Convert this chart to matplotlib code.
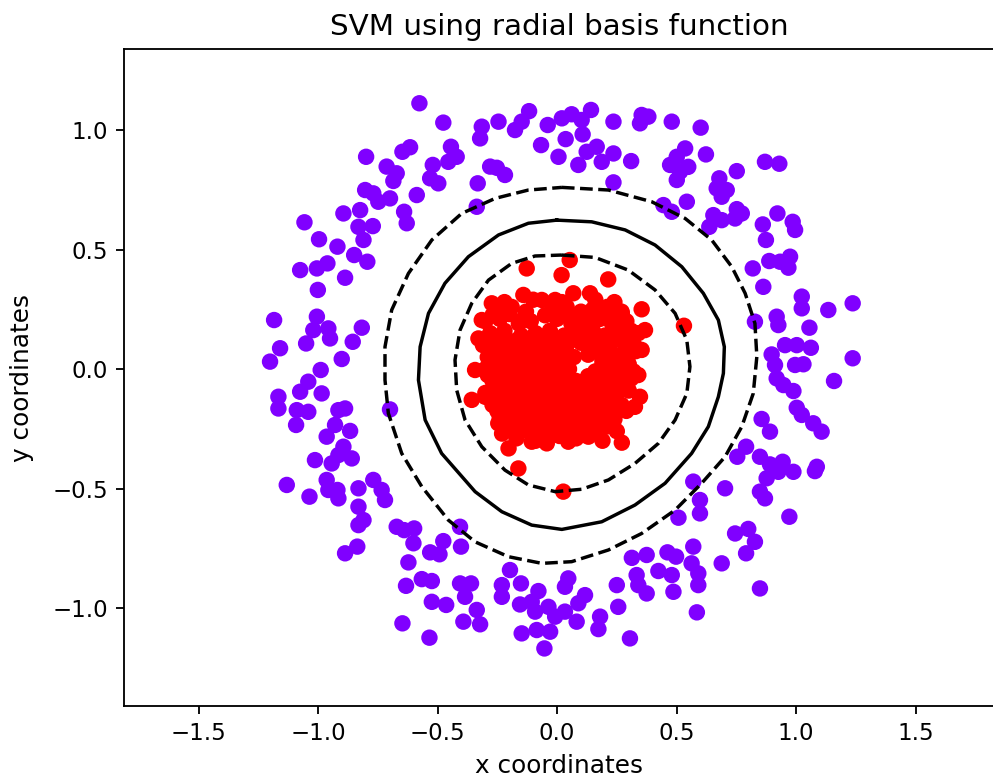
import numpy as np
import matplotlib
matplotlib.use("Agg")
import matplotlib.pyplot as plt

# outer ring (class 0)
outer_x = [
    -0.576, -0.476, -0.444, -0.615, -0.647, -0.799, -0.713, -0.671, -0.685, -0.520, -0.455, -0.420,
    -0.531, -0.497, -0.587, -0.803, -0.769, -0.699, -0.748, -0.824, -0.894, -0.640, -0.629, -1.057,
    -0.831, -0.771, -0.810, -0.996, -0.919, -0.849, -0.794, -0.961, -1.075, -1.005, -0.887,
    -0.315, -0.322, -0.245, -0.176, -0.148, -0.117, -0.039, 0.020, 0.061, 0.103, 0.142, 0.107,
    0.036, -0.067, 0.006, 0.089, 0.124, 0.166, 0.187, 0.236, 0.236, 0.310, 0.236, 0.354, 0.382,
    0.347, -0.280, -0.252, -0.218, -0.332, -0.336,
    0.480, 0.601, 0.536, 0.501, 0.473, 0.549, 0.515, 0.501, 0.623, 0.752, 0.870, 0.930, 0.679,
    0.668, 0.710, 0.689, 0.543, 0.445, 0.480, 0.752, 0.773, 0.745, 0.654, 0.689, 0.637, 0.922,
    0.861, 0.986, 0.996, 0.874, 0.819, 0.888, 0.933, 0.975, 0.968,
    -1.001, -1.184, -1.005, -1.020, -0.957, -0.950, -1.050, -0.817, -0.855, -1.159, -1.201,
    -0.901, -0.989, -1.041, -1.075, -0.985, -1.166, -1.166, -1.089, -1.041, -0.915, -0.887,
    -1.092, -0.929, -0.866, -0.964, -0.894, -0.915, -0.859, -1.013, -0.943, -0.699,
    -1.131, -1.036, -0.964, -0.957, -0.919, -0.915, -0.831, -0.769, -0.734, -0.720, -0.831,
    -0.810, -0.831, -0.671, -0.640, -0.598, -0.601, -0.836, -0.887, -0.476, -0.531, -0.492,
    -0.622, -0.632, -0.566, -0.524, -0.524, -0.464, -0.647, -0.534,
    -0.406, -0.402, -0.197, -0.406, -0.360, -0.385, -0.231, -0.231, -0.151, -0.336, -0.392,
    -0.322, -0.078, -0.155, -0.106, -0.036, -0.092, -0.008, 0.033, 0.047, 0.033, 0.117, 0.089,
    0.082, -0.148, -0.085, -0.029, -0.053, 0.180, 0.173, 0.250, 0.256, 0.313, 0.375, 0.333,
    0.340, 0.375, 0.305, 0.424,
    0.570, 0.703, 0.598, 0.598, 0.508, 0.849, 0.870, 0.877, 0.926, 0.989, 1.079, 0.972, 0.745,
    0.800, 0.828, 0.791, 0.570, 0.462, 0.498, 0.563, 0.689, 0.591, 0.591, 0.480, 0.487, 0.849,
    0.585,
    0.863, 1.024, 1.024, 1.135, 1.237, 0.828, 0.919, 0.926, 1.056, 0.898, 0.954, 1.003, 1.062,
    1.237, 0.912, 0.996, 1.031, 0.919, 0.947, 0.989, 1.159, 1.003, 1.024, 1.072, 1.107, 0.856,
    0.891, 0.791, 0.754, 0.849, 0.944, 0.891, 1.087,
]
outer_y = [
    1.112, 1.031, 0.930, 0.928, 0.909, 0.888, 0.847, 0.819, 0.787, 0.854, 0.867, 0.888,
    0.798, 0.777, 0.728, 0.749, 0.735, 0.714, 0.700, 0.665, 0.651, 0.658, 0.610, 0.614,
    0.595, 0.598, 0.540, 0.543, 0.512, 0.477, 0.449, 0.442, 0.414, 0.421, 0.382,
    1.014, 0.965, 1.035, 1.000, 1.035, 1.079, 1.021, 1.049, 1.066, 1.042, 1.084, 0.982,
    0.962, 0.937, 0.888, 0.854, 0.909, 0.930, 0.867, 0.902, 1.035, 0.870, 0.781, 1.063, 1.056,
    1.028, 0.847, 0.842, 0.812, 0.777, 0.679,
    1.035, 1.010, 0.923, 0.888, 0.854, 0.846, 0.826, 0.791, 0.898, 0.828, 0.867, 0.859, 0.798,
    0.756, 0.749, 0.721, 0.700, 0.686, 0.658, 0.669, 0.651, 0.630, 0.644, 0.623, 0.595, 0.651,
    0.605, 0.616, 0.582, 0.540, 0.421, 0.452, 0.449, 0.470, 0.424,
    0.331, 0.205, 0.219, 0.163, 0.170, 0.128, 0.107, 0.173, 0.114, 0.087, 0.031,
    0.042, -0.004, -0.053, -0.095, -0.102, -0.116, -0.165, -0.172, -0.179, -0.172, -0.165,
    -0.234, -0.234, -0.259, -0.283, -0.325, -0.360, -0.374, -0.381, -0.395, -0.169,
    -0.485, -0.534, -0.464, -0.506, -0.506, -0.541, -0.499, -0.464, -0.506, -0.548, -0.576,
    -0.632, -0.653, -0.660, -0.674, -0.667, -0.729, -0.743, -0.771, -0.720, -0.767, -0.775,
    -0.809, -0.907, -0.879, -0.887, -0.974, -0.987, -1.064, -1.124,
    -0.660, -0.743, -0.841, -0.897, -0.897, -0.953, -0.904, -0.953, -0.897, -1.008, -1.057,
    -1.068, -0.929, -0.985, -0.974, -0.995, -1.015, -1.036, -1.015, -0.876, -0.911, -0.946, -0.980,
    -1.057, -1.106, -1.092, -1.099, -1.169, -1.036, -1.088, -0.904, -0.995, -0.790, -0.778, -0.862,
    -0.904, -0.939, -1.127, -0.845,
    -0.471, -0.499, -0.548, -0.604, -0.622, -0.513, -0.541, -0.457, -0.430, -0.430, -0.427, -0.618, -0.688,
    -0.669, -0.723, -0.771, -0.743, -0.767, -0.785, -0.813, -0.813, -0.855, -0.904, -0.862, -0.932, -0.918,
    -1.018,
    0.344, 0.303, 0.254, 0.247, 0.275, 0.198, 0.219, 0.184, 0.173, 0.061, 0.100, 0.100, 0.089,
    0.045, 0.017, 0.017, 0.020, -0.039, -0.067, -0.092, -0.050, -0.162, -0.192, -0.227, -0.262, -0.209,
    -0.262, -0.325, -0.367, -0.367, -0.388, -0.399, -0.409,
]

# inner blob (class 1)
inner_x = [
    -0.127, 0.053, 0.019, 0.214, 0.354, 0.340, 0.368, 0.354, 0.347, 0.326, 0.271,
    -0.162, -0.203, -0.357, -0.343, -0.329, -0.315, -0.273, -0.141, -0.064, 0.068, 0.138, -0.008,
    0.271, -0.246, -0.043, 0.047, 0.131, -0.106, 0.229, -0.301, 0.531, 0.026,
    -0.22, -0.10, 0.02, 0.16, 0.24,
    -0.25, -0.19, -0.13, -0.02, 0.04, 0.10, 0.15, 0.21, 0.27,
    -0.27, -0.20, -0.135, -0.05, 0.03, 0.09, 0.15, 0.205, 0.26,
    -0.30, -0.24, -0.16, -0.11, 0.00, 0.06, 0.12, 0.18, 0.23, 0.29,
    -0.28, -0.22, -0.15, -0.09, -0.03, 0.03, 0.09, 0.15, 0.20, 0.26, 0.31,
    -0.285, -0.23, -0.17, -0.11, -0.05, 0.01, 0.07, 0.13, 0.185, 0.24, 0.30,
    -0.31, -0.26, -0.20, -0.14, -0.08, -0.02, 0.04, 0.10, 0.16, 0.21, 0.28, 0.33,
    -0.26, -0.20, -0.14, -0.08, -0.02, 0.04, 0.16, 0.22, 0.28, 0.33,
    -0.29, -0.23, -0.17, -0.11, -0.05, 0.01, 0.07, 0.13, 0.19, 0.25, 0.30,
    -0.27, -0.21, -0.15, -0.09, -0.03, 0.03, 0.19, 0.25, 0.30,
    -0.30, -0.25, -0.19, -0.13, -0.07, -0.01, 0.05, 0.16, 0.22, 0.27, 0.32,
    -0.29, -0.23, -0.17, -0.11, -0.05, 0.01, 0.06, 0.13, 0.18, 0.24, 0.29, 0.34,
    -0.27, -0.21, -0.15, -0.09, -0.03, 0.03, 0.08, 0.14, 0.20, 0.26, 0.31,
    -0.25, -0.19, -0.13, -0.07, -0.01, 0.05, 0.10, 0.15, 0.22, 0.28,
    -0.30, -0.24, -0.18, -0.12, -0.06, 0.00, 0.06, 0.12, 0.17, 0.25, 0.30,
    -0.28, -0.22, -0.16, -0.10, -0.04, 0.02, 0.08, 0.14, 0.19, 0.24,
    -0.27, -0.21, -0.15, -0.09, -0.03, 0.03, 0.09, 0.15, 0.21, 0.27,
    -0.25, -0.19, -0.13, -0.07, -0.01, 0.05, 0.11, 0.17, 0.23, 0.29,
    -0.24, -0.18, -0.12, -0.06, 0.00, 0.06, 0.12, 0.18, 0.24,
    -0.21, -0.15, -0.09, -0.03, 0.03, 0.09, 0.15, 0.21,
    -0.23, -0.12, -0.05, 0.02, 0.13, 0.25,
    -0.20, -0.14, -0.08, -0.02, 0.05, 0.10, 0.16, 0.21,
    -0.17, -0.09, 0.01, 0.08, 0.19,
]
inner_y = [
    0.421, 0.456, 0.393, 0.375, 0.250, 0.150, 0.163, 0.080, -0.116, -0.158, -0.308,
    -0.416, -0.332, -0.129, -0.004, 0.128, 0.205, 0.275, 0.310, 0.289, 0.317, 0.317, 0.289,
    0.233, -0.227, -0.311, -0.304, -0.283, -0.304, -0.234, -0.116, 0.181, -0.513,
    0.28, 0.29, 0.28, 0.29, 0.28,
    0.25, 0.26, 0.24, 0.25, 0.26, 0.24, 0.25, 0.26, 0.24,
    0.225, 0.23, 0.22, 0.225, 0.23, 0.22, 0.225, 0.23, 0.22,
    0.20, 0.21, 0.19, 0.20, 0.21, 0.19, 0.20, 0.21, 0.19, 0.20,
    0.15, 0.16, 0.14, 0.15, 0.16, 0.14, 0.15, 0.16, 0.14, 0.15, 0.16,
    0.125, 0.13, 0.12, 0.125, 0.13, 0.12, 0.125, 0.13, 0.12, 0.125, 0.13,
    0.10, 0.11, 0.09, 0.10, 0.11, 0.09, 0.10, 0.11, 0.09, 0.10, 0.11, 0.09,
    0.075, 0.08, 0.07, 0.075, 0.08, 0.07, 0.075, 0.08, 0.07, 0.075,
    0.05, 0.06, 0.04, 0.05, 0.06, 0.04, 0.05, 0.06, 0.04, 0.05, 0.06,
    0.025, 0.03, 0.02, 0.025, 0.03, 0.02, 0.025, 0.03, 0.02,
    0.00, 0.01, -0.01, 0.00, 0.01, -0.01, 0.00, -0.01, 0.00, 0.01, -0.01,
    -0.025, -0.02, -0.03, -0.025, -0.02, -0.03, -0.045, -0.03, -0.025, -0.02, -0.03, -0.025,
    -0.05, -0.04, -0.06, -0.05, -0.04, -0.06, -0.05, -0.04, -0.06, -0.05, -0.04,
    -0.075, -0.07, -0.08, -0.075, -0.07, -0.08, -0.075, -0.07, -0.08, -0.075,
    -0.10, -0.09, -0.11, -0.10, -0.09, -0.11, -0.10, -0.09, -0.11, -0.10, -0.09,
    -0.125, -0.12, -0.13, -0.125, -0.12, -0.13, -0.125, -0.12, -0.13, -0.125,
    -0.15, -0.14, -0.16, -0.15, -0.14, -0.16, -0.15, -0.14, -0.16, -0.15,
    -0.175, -0.17, -0.18, -0.175, -0.17, -0.18, -0.175, -0.17, -0.18, -0.175,
    -0.20, -0.19, -0.21, -0.20, -0.19, -0.21, -0.20, -0.19, -0.21,
    -0.225, -0.22, -0.23, -0.225, -0.22, -0.23, -0.225, -0.22,
    -0.27, -0.26, -0.27, -0.26, -0.27, -0.26,
    -0.25, -0.24, -0.26, -0.25, -0.24, -0.26, -0.25, -0.24,
    -0.29, -0.30, -0.28, -0.29, -0.30,
]

# decision function level sets: margin -1, boundary 0, margin +1
margin_out_x = [0.020, 0.215, 0.396, 0.536, 0.647, 0.731, 0.787, 0.828, 0.836, 0.821, 0.773, 0.703,
                0.605, 0.494, 0.354, 0.215, 0.061, -0.064, -0.204, -0.343, -0.455, -0.566, -0.650,
                -0.706, -0.720, -0.720, -0.692, -0.622, -0.524, -0.399, -0.259, -0.120, 0.020]
margin_out_y = [0.760, 0.749, 0.700, 0.630, 0.540, 0.428, 0.317, 0.191, 0.052, -0.102, -0.241, -0.367,
                -0.478, -0.590, -0.688, -0.757, -0.806, -0.813, -0.785, -0.723, -0.632, -0.492, -0.353,
                -0.185, -0.046, 0.093, 0.247, 0.400, 0.540, 0.651, 0.714, 0.749, 0.760]

boundary_x = [-0.001, 0.145, 0.285, 0.410, 0.522, 0.612, 0.675, 0.700, 0.696, 0.675, 0.633, 0.563,
              0.452, 0.326, 0.187, 0.020, -0.106, -0.231, -0.343, -0.483, -0.552, -0.580, -0.573,
              -0.538, -0.469, -0.371, -0.245, -0.120, -0.001]
boundary_y = [0.623, 0.616, 0.582, 0.519, 0.428, 0.317, 0.205, 0.093, -0.018, -0.116, -0.241, -0.353,
              -0.478, -0.569, -0.639, -0.671, -0.653, -0.597, -0.513, -0.353, -0.213, -0.046, 0.093,
              0.233, 0.359, 0.470, 0.561, 0.610, 0.623]

margin_in_x = [0.020, 0.159, 0.298, 0.410, 0.494, 0.543, 0.556, 0.543, 0.494, 0.424, 0.326, 0.215,
               0.103, -0.008, -0.120, -0.218, -0.315, -0.385, -0.420, -0.427, -0.406, -0.357, -0.287,
               -0.190, -0.092, 0.020]
margin_in_y = [0.477, 0.467, 0.414, 0.331, 0.233, 0.121, 0.010, -0.102, -0.213, -0.311, -0.395, -0.464,
               -0.503, -0.513, -0.485, -0.423, -0.325, -0.213, -0.088, 0.038, 0.163, 0.275, 0.372,
               0.442, 0.473, 0.477]

scale = 1.65  # everything is drawn at 1.65x the default sizes

X = np.array(outer_x + inner_x)
Y = np.array(outer_y + inner_y)
labels = np.array([0] * len(outer_x) + [1] * len(inner_x))

fig = plt.figure(figsize=(9.93, 7.78), dpi=100)
ax = fig.add_axes([0.1249, 0.0925, 0.8765, 0.8445])

ax.scatter(X, Y, c=labels, cmap="rainbow", s=38 * scale ** 2, linewidths=scale)

for xs, ys, ls in [(margin_out_x, margin_out_y, "--"),
                   (boundary_x, boundary_y, "-"),
                   (margin_in_x, margin_in_y, "--")]:
    ax.plot(xs, ys, color="k", linestyle=ls, linewidth=1.5 * scale,
            solid_joinstyle="round", dash_joinstyle="round")

ax.set_xlim(-1.812, 1.83)
ax.set_ylim(-1.410, 1.339)
ax.set_xticks([-1.5, -1.0, -0.5, 0.0, 0.5, 1.0, 1.5])
ax.set_yticks([-1.0, -0.5, 0.0, 0.5, 1.0])
ax.tick_params(labelsize=10 * scale, length=3.5 * scale, width=0.8 * scale, pad=3.5 * scale)
for sp in ax.spines.values():
    sp.set_linewidth(0.8 * scale)

ax.set_xlabel("x coordinates", fontsize=17.8, labelpad=4 * scale)
ax.set_ylabel("y coordinates", fontsize=17.8, labelpad=13)
ax.set_title("SVM using radial basis function", fontsize=21.2, pad=6 * scale)

fig.savefig("out.png", dpi=100)
